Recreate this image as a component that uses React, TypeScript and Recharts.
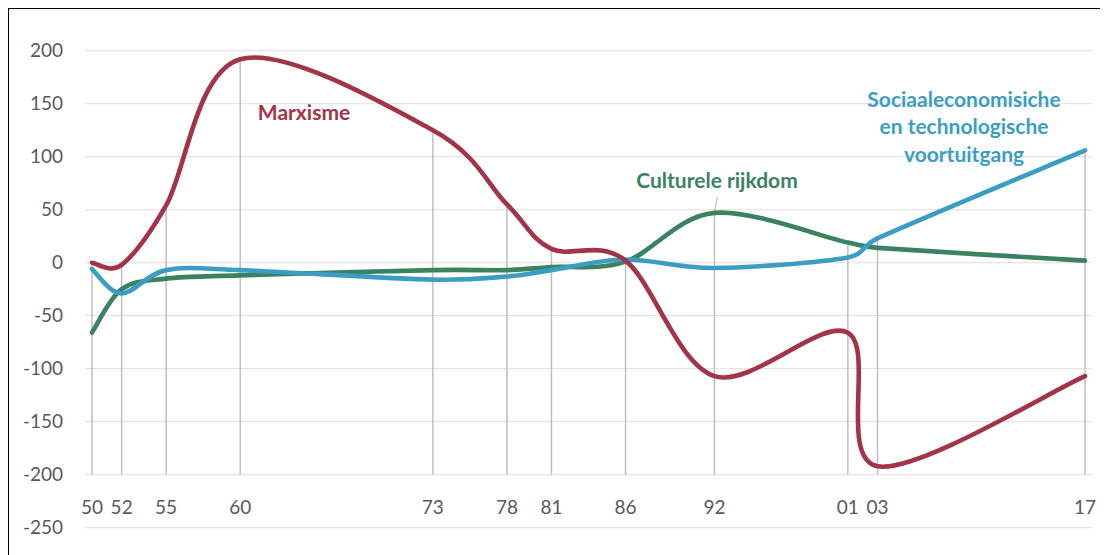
import React from 'react';
import {
  LineChart,
  Line,
  XAxis,
  YAxis,
  CartesianGrid,
  ReferenceLine,
} from 'recharts';

const years = [1950, 1952, 1955, 1960, 1973, 1978, 1981, 1986, 1992, 2001, 2003, 2017];
const marxisme = [0, -2, 54, 192, 125, 55, 13, 2, -107, -66, -192, -107];
const culturele = [-66, -25, -15, -12, -7, -7, -4, 1, 47, 19, 14, 2];
const sociaal = [-6, -29, -7, -7, -16, -13, -7, 3, -5, 5, 23, 106];
const yTicks = [-250, -200, -150, -100, -50, 0, 50, 100, 150, 200];

const data = years.map((year, i) => ({
  year,
  marxisme: marxisme[i],
  culturele: culturele[i],
  sociaal: sociaal[i],
}));

// top of each drop line = highest series value at that year
const dropTops = years.map((_, i) => Math.max(marxisme[i], culturele[i], sociaal[i]));

const RED = '#a33347';
const GREEN = '#3b8260';
const BLUE = '#3c9dc4';
const TEXT = '#595959';
const FONT = 'Lato, "Open Sans", sans-serif';

// Excel-like smoothed line: bezier segments, control arms 1/6 of the
// neighbour chord, capped at half the segment length.
const excelSmooth = (context: any) => {
  let pts: number[][] = [];
  const dist = (a: number[], b: number[]) => Math.hypot(a[0] - b[0], a[1] - b[1]);
  return {
    areaStart() {},
    areaEnd() {},
    lineStart() {
      pts = [];
    },
    point(x: number, y: number) {
      pts.push([+x, +y]);
    },
    lineEnd() {
      const n = pts.length;
      if (!n) return;
      context.moveTo(pts[0][0], pts[0][1]);
      for (let i = 0; i < n - 1; i++) {
        const p0 = pts[Math.max(i - 1, 0)];
        const p1 = pts[i];
        const p2 = pts[i + 1];
        const p3 = pts[Math.min(i + 2, n - 1)];
        const d12 = dist(p1, p2);
        const d02 = dist(p0, p2);
        const d13 = dist(p1, p3);
        const f1 = d02 > 0 ? Math.min(1 / 6, d12 / (2 * d02)) : 0;
        const f2 = d13 > 0 ? Math.min(1 / 6, d12 / (2 * d13)) : 0;
        context.bezierCurveTo(
          p1[0] + f1 * (p2[0] - p0[0]),
          p1[1] + f1 * (p2[1] - p0[1]),
          p2[0] - f2 * (p3[0] - p1[0]),
          p2[1] - f2 * (p3[1] - p1[1]),
          p2[0],
          p2[1],
        );
      }
    },
  };
};

const YearTick = ({ x, y, payload }: any) => (
  <text x={x} y={y - 14} textAnchor="middle" fill={TEXT} fontSize={19} fontFamily={FONT}>
    {String(payload.value).slice(2)}
  </text>
);

const labelStyle: React.CSSProperties = {
  position: 'absolute',
  transform: 'translate(-50%, -50%)',
  fontFamily: FONT,
  fontWeight: 700,
  fontSize: 21,
  whiteSpace: 'nowrap',
  textAlign: 'center',
};

export default function App() {
  return (
    <div
      style={{
        position: 'relative',
        width: 1100,
        height: 547,
        borderTop: '1px solid #000',
        borderLeft: '1px solid #000',
        background: '#fff',
      }}
    >
      <style>{'body{overflow:hidden}'}</style>
      <LineChart
        width={1100}
        height={547}
        data={data}
        margin={{ top: 41.7, right: 17, bottom: 8.3, left: 16 }}
      >
        <CartesianGrid horizontal vertical={false} stroke="#e4e4e4" strokeWidth={1.3} />
        <XAxis
          dataKey="year"
          type="number"
          domain={[1950, 2017]}
          ticks={years}
          interval={0}
          padding={{ left: 7, right: 7 }}
          axisLine={false}
          tickLine={false}
          tickSize={0}
          tickMargin={0}
          height={20}
          tick={<YearTick />}
        />
        <YAxis
          type="number"
          domain={[-250, 200]}
          ticks={yTicks}
          interval={0}
          axisLine={false}
          tickLine={false}
          tickSize={0}
          tickMargin={22}
          width={60}
          tick={{ fill: TEXT, fontSize: 19, fontFamily: FONT }}
        />
        {years.map((yr, i) => (
          <ReferenceLine
            key={yr}
            segment={[
              { x: yr, y: dropTops[i] },
              { x: yr, y: -200 },
            ]}
            stroke="#bfbfbf"
            strokeWidth={1.5}
          />
        ))}
        <ReferenceLine
          segment={[
            { x: 1992, y: 47 },
            { x: 1992.2, y: 62 },
          ]}
          stroke="#bfbfbf"
          strokeWidth={1.2}
        />
        <Line
          dataKey="culturele"
          type={excelSmooth as any}
          stroke={GREEN}
          strokeWidth={4.6}
          strokeLinecap="round"
          dot={false}
          activeDot={false}
          isAnimationActive={false}
        />
        <Line
          dataKey="sociaal"
          type={excelSmooth as any}
          stroke={BLUE}
          strokeWidth={4.6}
          strokeLinecap="round"
          dot={false}
          activeDot={false}
          isAnimationActive={false}
        />
        <Line
          dataKey="marxisme"
          type={excelSmooth as any}
          stroke={RED}
          strokeWidth={4.6}
          strokeLinecap="round"
          dot={false}
          activeDot={false}
          isAnimationActive={false}
        />
      </LineChart>
      <div style={{ ...labelStyle, left: 295, top: 102, color: RED }}>Marxisme</div>
      <div style={{ ...labelStyle, left: 708, top: 170.3, color: GREEN }}>Culturele rijkdom</div>
      <div style={{ ...labelStyle, left: 955, top: 116.8, color: BLUE, lineHeight: '27.5px' }}>
        Sociaaleconomisiche
        <br />
        en technologische
        <br />
        voortuitgang
      </div>
    </div>
  );
}
